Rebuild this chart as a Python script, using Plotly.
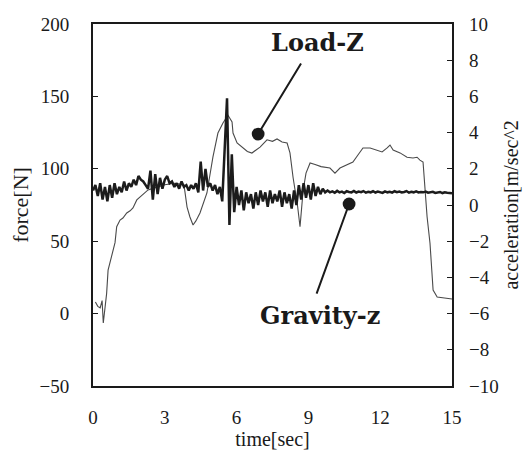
import plotly.graph_objects as go

# ---- data ----
load_t = [0.10, 0.20, 0.30, 0.38, 0.43, 0.50, 0.57, 0.63, 0.78, 0.92, 0.99, 1.13, 1.25, 1.41,
          1.55, 1.67, 1.83, 2.09, 2.30, 2.60, 3.00, 3.40, 3.80, 3.93, 4.05, 4.18, 4.30, 4.47,
          4.76, 5.01, 5.22, 5.43, 5.64, 5.81, 5.85, 6.02, 6.27, 6.45, 6.64, 6.80, 6.98, 7.27,
          7.50, 7.69, 7.90, 8.11, 8.23, 8.36, 8.55, 8.65, 8.78, 8.90, 9.07, 9.28, 9.53, 9.90,
          10.11, 10.32, 10.61, 10.86, 11.07, 11.28, 11.58, 11.87, 12.08, 12.29, 12.41, 12.54,
          12.83, 13.12, 13.37, 13.54, 13.66, 13.79, 13.87, 13.96, 14.08, 14.17, 14.21, 14.38,
          14.63, 15.00]
load_force = [8, 5, 4, 9, -6.5, 2.5, 14, 30, 39, 49, 60, 64.6, 66, 69.5,
              71, 73, 78.5, 82, 85.4, 87, 89, 90, 89, 73.6, 66.7, 61.2, 64, 69.5,
              83.3, 108, 124.7, 131.6, 137, 132.3, 124.7, 117.8, 114.4, 112, 110.9, 113, 115, 120,
              119, 120.6, 118.5, 117.8, 111, 94, 74, 60, 85, 97, 104, 103, 101.5, 100.5,
              97, 100.5, 102.6, 104.7, 109.5, 114.4, 114.4, 113, 111.6, 114.4, 116.4, 113,
              111, 108, 107.5, 108, 106, 104.7, 87.4, 66.7, 48.8, 25.3, 16.3, 11.5,
              10.8, 10.1]

grav_t = [round(i * 0.1, 1) for i in range(151)]
grav_acc = [
    0.8, 1.1, 0.5, 1.2, 0.3, 1.0, 0.2, 1.1, 0.4, 1.2,
    0.6, 1.0, 0.7, 1.3, 0.8, 1.2, 1.0, 1.4, 1.1, 1.6,
    1.4, 1.3, 1.1, 0.9, 1.9, 0.3, 1.7, 0.6, 1.5, 0.9,
    1.4, 1.6, 1.2, 1.3, 1.0, 1.2, 0.9, 1.3, 1.0, 1.1,
    0.8, 1.1, 0.9, 1.2, 0.7, 2.4, 0.8, 2.0, 1.0, 1.2,
    0.8, 1.1, 0.6, 1.0, 0.2, 3.5, 5.9, -1.1, 2.8, -0.4,
    1.0, 0.0, 0.8, -0.3, 0.7, 0.1, 0.6, -0.2, 0.7, 0.0,
    0.8, 0.2, 0.7, -0.1, 0.8, 0.1, 0.6, 0.2, 0.8, -0.1,
    0.7, 0.1, 0.6, -0.2, 0.8, 0.0, 1.1, 0.3, 1.2, 0.4,
    1.1, 0.3, 1.2, 0.5, 1.0, 0.6, 0.9, 0.7, 0.8, 0.7,
    0.75, 0.68, 0.78, 0.70, 0.74, 0.66, 0.76, 0.72, 0.70, 0.78,
    0.69, 0.74, 0.71, 0.77, 0.68, 0.73, 0.70, 0.76, 0.69, 0.74,
    0.72, 0.67, 0.75, 0.70, 0.73, 0.68, 0.76, 0.71, 0.74, 0.69,
    0.72, 0.77, 0.68, 0.73, 0.70, 0.75, 0.69, 0.72, 0.70, 0.74,
    0.68, 0.71, 0.73, 0.67, 0.70, 0.72, 0.66, 0.70, 0.68, 0.66,
    0.65,
]

x_ticks = [0, 3, 6, 9, 12, 15]
force_ticks = [-50, 0, 50, 100, 150, 200]
acc_ticks = [-10, -8, -6, -4, -2, 0, 2, 4, 6, 8, 10]

SERIF = "Liberation Serif, Times New Roman, serif"
BOLD_SERIF = "DejaVu Serif, serif"

fig = go.Figure()
fig.add_trace(go.Scatter(x=load_t, y=load_force, mode="lines",
                         line=dict(color="#4a4a4a", width=1.1), yaxis="y", showlegend=False))
fig.add_trace(go.Scatter(x=grav_t, y=grav_acc, mode="lines",
                         line=dict(color="#1c1c1c", width=2.5), yaxis="y2", showlegend=False))

# annotations with dot-ended pointer lines
fig.add_annotation(x=6.9, y=124, xref="x", yref="y", ax=8.73, ay=173.8, axref="x", ayref="y",
                   text="", showarrow=True, arrowhead=6, arrowsize=1.6, arrowwidth=2,
                   arrowcolor="#1a1a1a")
fig.add_annotation(x=9.4, y=187, xref="x", yref="y", text="<b>Load-Z</b>", showarrow=False,
                   font=dict(family=BOLD_SERIF, size=24, color="#1a1a1a"))
fig.add_annotation(x=10.7, y=75.7, xref="x", yref="y", ax=9.32, ay=12.8, axref="x", ayref="y",
                   text="", showarrow=True, arrowhead=6, arrowsize=1.6, arrowwidth=2,
                   arrowcolor="#1a1a1a")
fig.add_annotation(x=9.5, y=-1.0, xref="x", yref="y", text="<b>Gravity-z</b>", showarrow=False,
                   font=dict(family=BOLD_SERIF, size=24, color="#1a1a1a"))

# right-hand axis title (placed in paper coordinates so it stays inside the page)
fig.add_annotation(x=1.163, y=0.5, xref="paper", yref="paper", text="acceleration[m/sec^2",
                   textangle=-90, showarrow=False, xanchor="center", yanchor="middle",
                   font=dict(family=SERIF, size=20, color="#1a1a1a"))

fig.update_layout(
    width=523, height=447,
    margin=dict(l=85, r=79, t=16, b=69),
    paper_bgcolor="white", plot_bgcolor="white",
    font=dict(family=SERIF, size=19, color="#1a1a1a"),
    xaxis=dict(range=[0, 15], tickvals=x_ticks, ticks="", showline=True, mirror=True,
               linecolor="#1a1a1a", linewidth=2, showgrid=False, zeroline=False,
               ticklabelstandoff=13, automargin=False,
               title=dict(text="time[sec]", font=dict(family=SERIF, size=20), standoff=0)),
    yaxis=dict(range=[-50, 200], tickvals=force_ticks, ticks="inside", ticklen=5,
               tickcolor="#1a1a1a", showline=True, mirror=True, linecolor="#1a1a1a",
               linewidth=2, showgrid=False, zeroline=False, ticklabelstandoff=18,
               automargin=False,
               title=dict(text="force[N]", font=dict(family=SERIF, size=22), standoff=8)),
    yaxis2=dict(range=[-10, 10], tickvals=acc_ticks, ticks="inside", ticklen=5,
                tickcolor="#1a1a1a", overlaying="y", side="right", showline=False,
                showgrid=False, zeroline=False, ticklabelstandoff=16, automargin=False),
)

fig.write_html("out.html")
